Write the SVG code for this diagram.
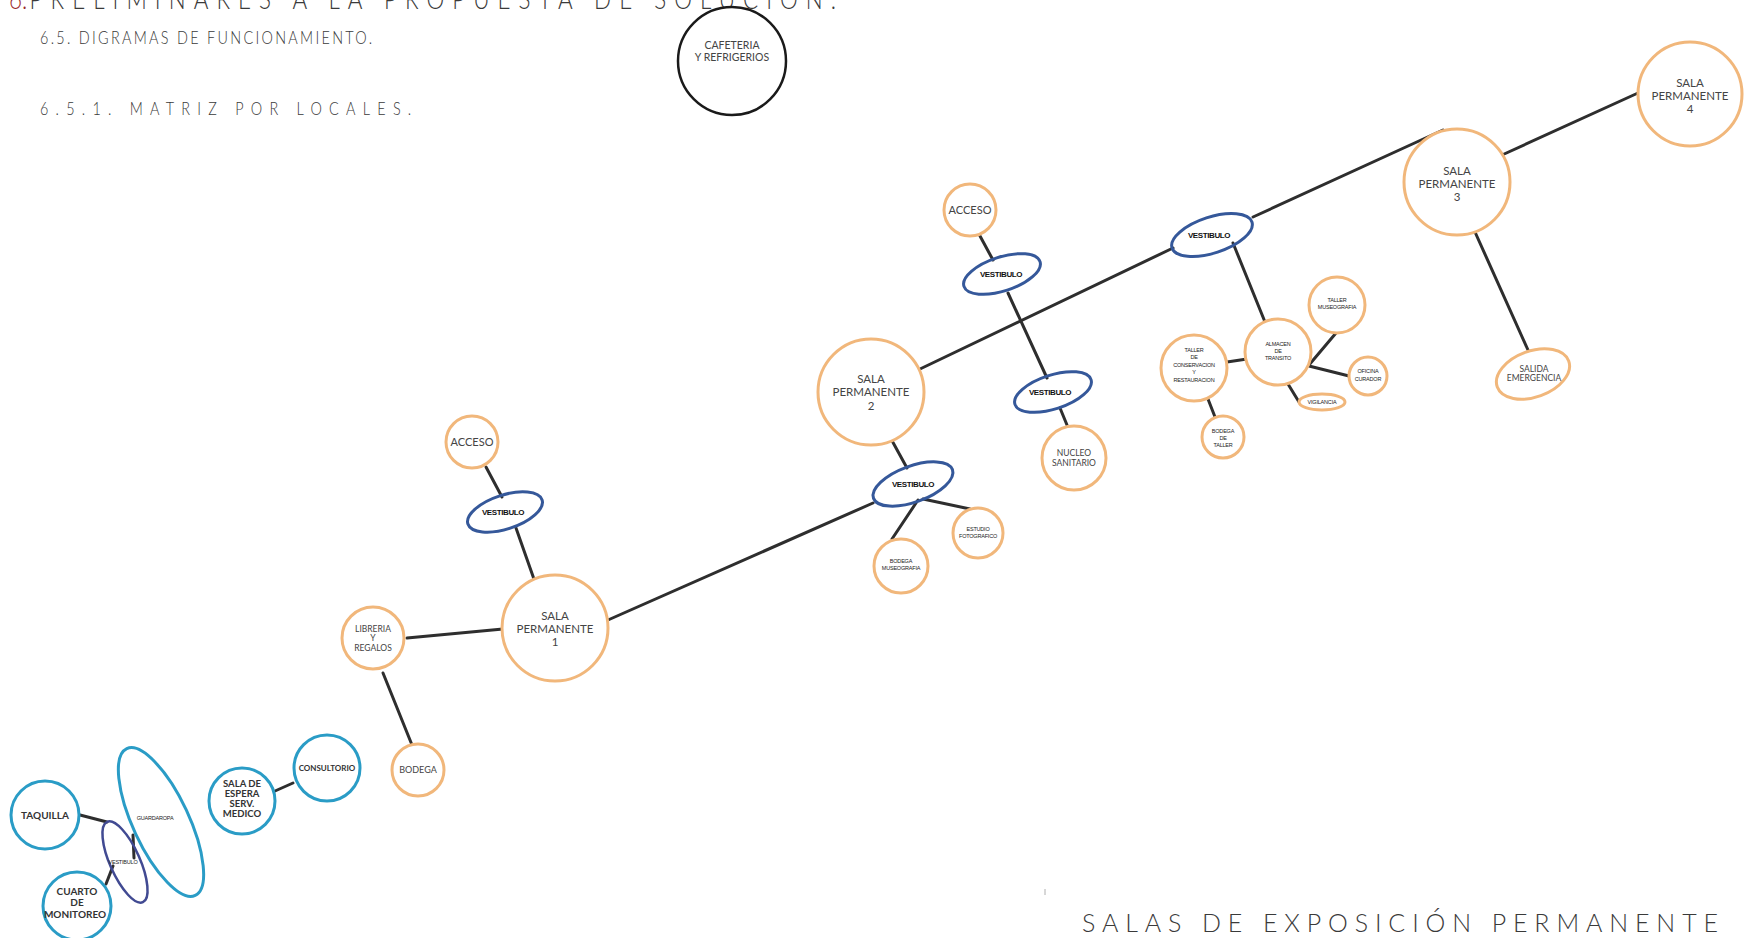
<svg xmlns="http://www.w3.org/2000/svg" width="1752" height="938" viewBox="0 0 1752 938">
  <style>
    .bg { fill: #ffffff; }
    .head { font-family: Lato, "Open Sans", "Liberation Sans", sans-serif; font-weight: 300; fill: #3a3a3a; }
    .num { fill: #9b2a2a; }
    .orange { fill: #ffffff; stroke: #f1b77b; stroke-width: 3; }
    .blue { fill: none; stroke: #35589a; stroke-width: 3; }
    .cyan { fill: none; stroke: #2a9cc6; stroke-width: 3; }
    .navy { fill: none; stroke: #414a92; stroke-width: 2.5; }
    .black { fill: #ffffff; stroke: #1a1a1a; stroke-width: 2.5; }
    .lbl { font-family: Lato, "Noto Sans", "Liberation Sans", sans-serif; fill: #444444; text-anchor: middle; }
    .vest { font-family: "Liberation Sans", Arial, sans-serif; font-weight: bold; fill: #111111; text-anchor: middle; font-size: 8px; letter-spacing: -0.4px; }
    .tiny { font-family: "Liberation Sans", Arial, sans-serif; fill: #222222; text-anchor: middle; font-size: 5.5px; letter-spacing: -0.2px; }
    .dark { fill: #333333; font-weight: bold; }
    #connectors line { stroke: #2e2e2e; stroke-width: 3; stroke-linecap: round; }
  </style>

  <rect class="bg" x="0" y="0" width="1752" height="938"/>

  <!-- headings: condensed letters with wide tracking -->
  <g transform="translate(9 9) scale(0.8 1)">
    <text class="head" x="0" y="0" font-size="28"><tspan class="num">6.</tspan><tspan dx="3" textLength="1008" lengthAdjust="spacing">PRELIMINARES A LA PROPUESTA DE SOLUCIÓN.</tspan></text>
  </g>
  <g transform="translate(40 44) scale(0.8 1)">
    <text class="head" x="0" y="0" font-size="18" textLength="415" lengthAdjust="spacing">6.5. DIGRAMAS DE FUNCIONAMIENTO.</text>
  </g>
  <g transform="translate(40 115) scale(0.8 1)">
    <text class="head" x="0" y="0" font-size="18" textLength="464" lengthAdjust="spacing">6.5.1. MATRIZ POR LOCALES.</text>
  </g>
  <text class="head" x="1082" y="932" font-size="25" textLength="636" lengthAdjust="spacing">SALAS DE EXPOSICIÓN PERMANENTE</text>
  <line x1="1045" y1="889" x2="1045" y2="895" stroke="#b0b0b0" stroke-width="1"/>

  <!-- connectors -->
  <g id="connectors">
    <line x1="608" y1="620" x2="873" y2="503"/>
    <line x1="907" y1="468" x2="890" y2="437"/>
    <line x1="923" y1="499" x2="970" y2="509"/>
    <line x1="918" y1="500" x2="892" y2="539"/>
    <line x1="920" y1="369" x2="1173" y2="248"/>
    <line x1="1253" y1="217" x2="1443" y2="130"/>
    <line x1="1502" y1="155" x2="1638" y2="93"/>
    <line x1="980" y1="236" x2="993" y2="260"/>
    <line x1="1008" y1="293" x2="1047" y2="378"/>
    <line x1="1060" y1="408" x2="1067" y2="425"/>
    <line x1="1233" y1="243" x2="1265" y2="322"/>
    <line x1="1227" y1="362" x2="1247" y2="359"/>
    <line x1="1309" y1="365" x2="1336" y2="333"/>
    <line x1="1309" y1="366" x2="1349" y2="376"/>
    <line x1="1288" y1="384" x2="1299" y2="402"/>
    <line x1="1208" y1="399" x2="1215" y2="417"/>
    <line x1="1475" y1="232" x2="1528" y2="350"/>
    <line x1="486" y1="467" x2="502" y2="497"/>
    <line x1="516" y1="528" x2="535" y2="582"/>
    <line x1="407" y1="638" x2="503" y2="629"/>
    <line x1="383" y1="673" x2="412" y2="745"/>
    <line x1="275" y1="791" x2="293" y2="783"/>
    <line x1="80" y1="815" x2="107" y2="822"/>
    <line x1="113" y1="866" x2="106" y2="884"/>
    <line x1="133" y1="835" x2="134" y2="858"/>
  </g>

  <!-- cafeteria -->
  <g id="cafeteria">
    <circle class="black" cx="732" cy="61" r="54"/>
    <text class="lbl" font-size="10.5" fill="#555"><tspan x="732" y="49">CAFETERIA</tspan><tspan x="732" y="61">Y REFRIGERIOS</tspan></text>
  </g>

  <!-- permanent halls -->
  <g id="sala-permanente-1">
    <circle class="orange" cx="555" cy="628" r="53"/>
    <text class="lbl" font-size="11.5"><tspan x="555" y="620">SALA</tspan><tspan x="555" y="633">PERMANENTE</tspan><tspan x="555" y="646">1</tspan></text>
  </g>
  <g id="sala-permanente-2">
    <circle class="orange" cx="871" cy="392" r="53"/>
    <text class="lbl" font-size="11.5"><tspan x="871" y="383">SALA</tspan><tspan x="871" y="396">PERMANENTE</tspan><tspan x="871" y="410">2</tspan></text>
  </g>
  <g id="sala-permanente-3">
    <circle class="orange" cx="1457" cy="182" r="53"/>
    <text class="lbl" font-size="11.5"><tspan x="1457" y="175">SALA</tspan><tspan x="1457" y="188">PERMANENTE</tspan><tspan x="1457" y="201">3</tspan></text>
  </g>
  <g id="sala-permanente-4">
    <circle class="orange" cx="1690" cy="94" r="52"/>
    <text class="lbl" font-size="11.5"><tspan x="1690" y="87">SALA</tspan><tspan x="1690" y="100">PERMANENTE</tspan><tspan x="1690" y="113">4</tspan></text>
  </g>

  <!-- first access group -->
  <g id="acceso-1">
    <circle class="orange" cx="472" cy="442" r="26"/>
    <text class="lbl" x="472" y="446" font-size="11" fill="#333">ACCESO</text>
  </g>
  <g id="vestibulo-1">
    <ellipse class="blue" cx="505" cy="512" rx="39" ry="17" transform="rotate(-18 505 512)"/>
    <text class="vest" x="503" y="515">VESTIBULO</text>
  </g>
  <g id="libreria">
    <circle class="orange" cx="373" cy="638" r="31"/>
    <text class="lbl" font-size="8.5"><tspan x="373" y="632">LIBRERIA</tspan><tspan x="373" y="641">Y</tspan><tspan x="373" y="651">REGALOS</tspan></text>
  </g>
  <g id="bodega">
    <circle class="orange" cx="418" cy="770" r="26"/>
    <text class="lbl" x="418" y="773" font-size="9">BODEGA</text>
  </g>

  <!-- hall 2 service group -->
  <g id="vestibulo-2">
    <ellipse class="blue" cx="913" cy="484" rx="42" ry="18" transform="rotate(-20 913 484)"/>
    <text class="vest" x="913" y="487">VESTIBULO</text>
  </g>
  <g id="estudio-fotografico">
    <circle class="orange" cx="978" cy="533" r="25"/>
    <text class="tiny"><tspan x="978" y="531">ESTUDIO</tspan><tspan x="978" y="538">FOTOGRAFICO</tspan></text>
  </g>
  <g id="bodega-museografia">
    <circle class="orange" cx="901" cy="566" r="27"/>
    <text class="tiny"><tspan x="901" y="563">BODEGA</tspan><tspan x="901" y="570">MUSEOGRAFIA</tspan></text>
  </g>

  <!-- second access group -->
  <g id="acceso-2">
    <circle class="orange" cx="970" cy="210" r="26"/>
    <text class="lbl" x="970" y="214" font-size="11" fill="#333">ACCESO</text>
  </g>
  <g id="vestibulo-3">
    <ellipse class="blue" cx="1002" cy="274" rx="40" ry="17" transform="rotate(-18 1002 274)"/>
    <text class="vest" x="1001" y="277">VESTIBULO</text>
  </g>
  <g id="vestibulo-4">
    <ellipse class="blue" cx="1053" cy="392" rx="40" ry="17" transform="rotate(-18 1053 392)"/>
    <text class="vest" x="1050" y="395">VESTIBULO</text>
  </g>
  <g id="nucleo-sanitario">
    <circle class="orange" cx="1074" cy="458" r="32"/>
    <text class="lbl" font-size="8.5"><tspan x="1074" y="456">NUCLEO</tspan><tspan x="1074" y="466">SANITARIO</tspan></text>
  </g>

  <!-- hall 3 service group -->
  <g id="vestibulo-5">
    <ellipse class="blue" cx="1212" cy="235" rx="42" ry="18" transform="rotate(-18 1212 235)"/>
    <text class="vest" x="1209" y="238">VESTIBULO</text>
  </g>
  <g id="almacen-transito">
    <circle class="orange" cx="1278" cy="352" r="33"/>
    <text class="tiny"><tspan x="1278" y="346">ALMACEN</tspan><tspan x="1278" y="353">DE</tspan><tspan x="1278" y="360">TRANSITO</tspan></text>
  </g>
  <g id="taller-museografia">
    <circle class="orange" cx="1337" cy="305" r="28"/>
    <text class="tiny"><tspan x="1337" y="302">TALLER</tspan><tspan x="1337" y="309">MUSEOGRAFIA</tspan></text>
  </g>
  <g id="oficina-curador">
    <circle class="orange" cx="1368" cy="376" r="19"/>
    <text class="tiny"><tspan x="1368" y="373">OFICINA</tspan><tspan x="1368" y="381">CURADOR</tspan></text>
  </g>
  <g id="vigilancia">
    <ellipse class="orange" cx="1322" cy="402" rx="23" ry="8"/>
    <text class="tiny" x="1322" y="404">VIGILANCIA</text>
  </g>
  <g id="taller-conservacion">
    <circle class="orange" cx="1194" cy="368" r="33"/>
    <text class="tiny"><tspan x="1194" y="352">TALLER</tspan><tspan x="1194" y="359">DE</tspan><tspan x="1194" y="367">CONSERVACION</tspan><tspan x="1194" y="374">Y</tspan><tspan x="1194" y="382">RESTAURACION</tspan></text>
  </g>
  <g id="bodega-taller">
    <circle class="orange" cx="1223" cy="437" r="21"/>
    <text class="tiny"><tspan x="1223" y="433">BODEGA</tspan><tspan x="1223" y="440">DE</tspan><tspan x="1223" y="447">TALLER</tspan></text>
  </g>
  <g id="salida-emergencia">
    <ellipse class="orange" cx="1533" cy="374" rx="38" ry="23" transform="rotate(-20 1533 374)"/>
    <text class="lbl" font-size="8.5"><tspan x="1534" y="372">SALIDA</tspan><tspan x="1534" y="381">EMERGENCIA</tspan></text>
  </g>

  <!-- entrance / services group -->
  <g id="guardarropa">
    <ellipse class="cyan" cx="161" cy="822" rx="28" ry="81" transform="rotate(-25 161 822)"/>
    <text class="tiny" x="155" y="820" font-size="6">GUARDAROPA</text>
  </g>
  <g id="vestibulo-entrada">
    <ellipse class="navy" cx="125" cy="862" rx="15" ry="44" transform="rotate(-24 125 862)"/>
    <text class="tiny" x="123" y="864" font-size="4.5">VESTIBULO</text>
  </g>
  <g id="taquilla">
    <circle class="cyan" cx="45" cy="815" r="34" fill="#ffffff"/>
    <text class="lbl dark" x="45" y="819" font-size="10">TAQUILLA</text>
  </g>
  <g id="cuarto-monitoreo">
    <circle class="cyan" cx="77" cy="906" r="34" fill="#ffffff"/>
    <text class="lbl dark" font-size="10"><tspan x="77" y="895">CUARTO</tspan><tspan x="77" y="906">DE</tspan><tspan x="75" y="918">MONITOREO</tspan></text>
  </g>
  <g id="sala-espera">
    <circle class="cyan" cx="242" cy="801" r="33" fill="#ffffff"/>
    <text class="lbl dark" font-size="9.5"><tspan x="242" y="787">SALA DE</tspan><tspan x="242" y="797">ESPERA</tspan><tspan x="242" y="807">SERV.</tspan><tspan x="242" y="817">MEDICO</tspan></text>
  </g>
  <g id="consultorio">
    <circle class="cyan" cx="327" cy="768" r="33" fill="#ffffff"/>
    <text class="lbl dark" x="327" y="771" font-size="8">CONSULTORIO</text>
  </g>
</svg>
